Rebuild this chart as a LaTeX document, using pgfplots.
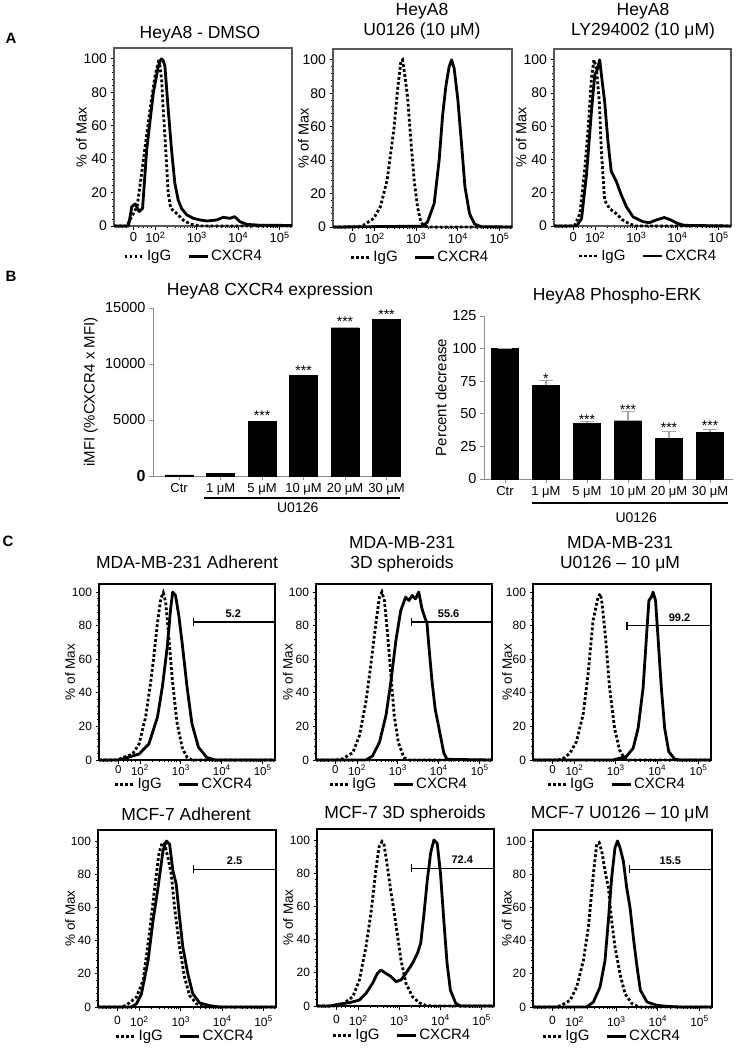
\documentclass[border=0pt]{standalone}
\usepackage{pgfplots}
\pgfplotsset{compat=1.18}
\usepackage{fontspec}
\setmainfont{Liberation Sans}
\newcommand{\fs}[1]{\fontsize{#1bp}{#1bp}\selectfont}
\newcommand{\tfont}{\fontsize{17.5bp}{20.5bp}\selectfont}
\pgfplotsset{
  hist/.style={
    scale only axis, clip=false,
    xmin=1, xmax=5.3, ymin=0,
    xtick={1.47,2,3,4,5},
    xticklabels={0,10\textsuperscript{2},10\textsuperscript{3},10\textsuperscript{4},10\textsuperscript{5}},
    minor xtick={1.1,1.2,1.3,1.6,1.7,1.8,1.9,2.301,2.477,2.602,2.699,2.778,2.845,2.903,2.954,3.301,3.477,3.602,3.699,3.778,3.845,3.903,3.954,4.301,4.477,4.602,4.699,4.778,4.845,4.903,4.954,5.25},
    ytick={0,20,40,60,80,100}, minor y tick num=4,
    tick align=outside, xtick pos=left, ytick pos=left,
    major tick length=3.5bp, minor tick length=2bp,
    /pgf/number format/assume math mode=true,
    ylabel={\% of Max},
    legend columns=2,
    legend image code/.code={\draw[##1] (0bp,0bp) -- (19bp,0bp);},
    legend style={draw=none, fill=none, anchor=center, font=\fs{15}, inner sep=0pt,
      /tikz/every even column/.append style={column sep=14bp}},
  },
  ylx/.style={ylabel style={at={(axis description cs:#1,0.5)}, anchor=center}},
  lgd/.style 2 args={legend style={at={(axis description cs:#1,#2)}}},
  arow/.style={hist, ymax=106.5, axis line style={draw=black!65, line width=1.2bp},
    tick style={black, line width=0.8bp}, tick label style={font=\fs{14}}, ylabel style={font=\fs{14.5}},
    x tick label style={font=\fs{13}, inner sep=2.5bp}},
  crow/.style={hist, axis line style={draw=black, line width=1.6bp},
    tick style={black, line width=0.8bp}, tick label style={font=\fs{12}}, ylabel style={font=\fs{13.5}}},
  c1row/.style={crow, ymax=104.8, x tick label style={font=\fs{11.5}, inner sep=1.5bp}},
  c2row/.style={crow, ymax=106.6, x tick label style={font=\fs{12}, inner sep=5.5bp}},
  igg/.style={black, line width=2.8bp, dash pattern=on 2.8bp off 2.2bp},
  cx/.style={black, line width=2.8bp, line join=round},
  gate/.style={black, line width=#1, mark=|, mark size=4bp, mark options={solid, line width=1.2bp}, forget plot},
  bar/.style={scale only axis, clip=false, axis x line=bottom, axis y line=left,
    axis line style={-, draw=black!45, line width=1bp}, ymin=0,
    xtick={0,1,2,3,4,5}, xticklabels={Ctr,1 μM,5 μM,10 μM,20 μM,30 μM},
    tick align=outside, major tick length=4bp, tick style={draw=black!45, line width=0.8bp},
    x tick label style={font=\fs{13}}, y tick label style={font=\fs{14.5}},
    ylabel style={font=\fs{15}},
    /pgf/number format/assume math mode=true,
    ybar, bar width=28bp, scaled y ticks=false},
}
\begin{document}
\begin{tikzpicture}
\useasboundingbox (0,0) rectangle (736bp,-1057bp);
\fill[white] (0,0) rectangle (736bp,-1057bp);

% ---------------- Row A ----------------
\begin{axis}[arow, at={(114bp,-226bp)}, anchor=south west, width=178bp, height=178bp, ylx=-0.183, lgd={0.447}{-0.17}]
\addplot[igg] coordinates {(1.0,0) (1.31,0) (1.47,7.6) (1.56,11.6) (1.71,39.6) (1.87,69.6) (1.99,89.6) (2.09,100) (2.15,87.6) (2.19,69.6) (2.25,45.6) (2.31,19.6) (2.37,10.6) (2.51,7.6) (2.67,3.6) (2.84,1.2) (3.08,0) (5.3,0)};
\addplot[cx] coordinates {(1.0,0) (1.35,0) (1.43,11.6) (1.51,13.2) (1.61,8.6) (1.69,10.6) (1.79,45.6) (1.95,79.6) (2.07,95.6) (2.14,100) (2.19,99) (2.23,95.6) (2.31,69.6) (2.39,45.6) (2.47,25.6) (2.55,15.6) (2.63,10.6) (2.76,6.6) (2.92,4.6) (3.08,3.6) (3.24,3) (3.48,3.6) (3.64,5.2) (3.80,4.6) (3.92,5.6) (4.04,2.6) (4.20,1) (4.5,0.5) (5.3,0.3)};
\legend{IgG,CXCR4}
\end{axis}

\begin{axis}[arow, at={(333bp,-227bp)}, anchor=south west, width=179bp, height=178bp, ylx=-0.165, lgd={0.486}{-0.17}]
\addplot[igg] coordinates {(1.0,0) (1.6,0) (1.74,1.2) (1.98,5.2) (2.14,12.2) (2.30,28) (2.47,60) (2.55,82) (2.63,99) (2.67,100) (2.72,92) (2.79,78) (2.87,52) (2.95,28) (3.03,12) (3.11,3) (3.19,0.5) (3.3,0) (5.3,0)};
\addplot[cx] coordinates {(1.0,0) (3.15,0.5) (3.27,3) (3.43,14) (3.55,40) (3.63,66) (3.71,84) (3.79,96) (3.85,100) (3.91,95) (4.00,76) (4.08,52) (4.17,24) (4.28,8) (4.40,1.8) (4.56,0.2) (5.3,0)};
\legend{IgG,CXCR4}
\end{axis}

\begin{axis}[arow, at={(554bp,-226bp)}, anchor=south west, width=177bp, height=177bp, ylx=-0.186, lgd={0.53}{-0.17}]
\addplot[igg] coordinates {(1.0,0) (1.4,0) (1.51,0.6) (1.63,7.5) (1.75,35) (1.83,59) (1.91,89) (1.97,100) (2.03,95) (2.10,75) (2.15,45) (2.23,15.5) (2.35,10.5) (2.51,7.5) (2.67,3.6) (2.84,1.2) (3.0,0) (5.3,0)};
\addplot[cx] coordinates {(1.0,0) (1.55,0) (1.67,4.5) (1.79,31) (1.91,69) (1.99,91) (2.05,94) (2.11,100) (2.18,85) (2.23,75) (2.31,51) (2.39,33) (2.51,27) (2.63,19) (2.76,11.5) (2.92,5.5) (3.16,2.6) (3.32,2) (3.48,3.6) (3.68,5.1) (3.84,3.6) (4.0,1.6) (4.16,0.4) (5.3,0)};
\legend{IgG,CXCR4}
\end{axis}

% ---------------- Row B ----------------
\begin{axis}[bar, at={(153bp,-476bp)}, anchor=south west, width=248bp, height=168bp,
  xmin=-0.63, xmax=5.35, ymax=15000, ytick={0,5000,10000,15000},
  yticklabels={{\fs{16}\bfseries 0},5000,10000,15000},
  ylabel={iMFI (\%CXCR4 x MFI)}, ylx=-0.251]
\addplot[fill=black, draw=black] coordinates {(0,100) (1,240) (2,4880) (3,8990) (4,13240) (5,13990)};
\node[font=\fs{14}, anchor=base] at (axis cs:2,5650) [yshift=-8bp] {***};
\node[font=\fs{14}, anchor=base] at (axis cs:3,9730) [yshift=-8bp] {***};
\node[font=\fs{14}, anchor=base] at (axis cs:4,14020) [yshift=-8bp] {***};
\node[font=\fs{14}, anchor=base] at (axis cs:5,14670) [yshift=-8bp] {***};
\draw[black, line width=2.5bp] (axis cs:0.6,-1964) -- (axis cs:5.33,-1964);
\node[font=\fs{14}] at (axis cs:2.86,-2813) {U0126};
\end{axis}

\begin{axis}[bar, at={(484bp,-479bp)}, anchor=south west, width=249bp, height=163bp,
  xmin=-0.51, xmax=5.56, ymax=125, ytick={0,25,50,75,100,125}, bar width=27bp,
  ylabel={Percent decrease}, ylx=-0.173]
\addplot[fill=black, draw=black, error bars/.cd, y dir=plus, y explicit,
  error bar style={draw=black!35, line width=1.2bp},
  error mark options={rotate=90, draw=black!35, line width=1.2bp, mark size=7bp}]
  coordinates {(0,100) +- (0,0) (1,71.8) +- (0,4) (2,42.6) +- (0,1.6) (3,44.7) +- (0,6.8) (4,31.4) +- (0,4.8) (5,35.7) +- (0,2.3)};
\node[font=\fs{14}, anchor=base] at (axis cs:1,79.6) [yshift=-8bp] {*};
\node[font=\fs{14}, anchor=base] at (axis cs:2,47.7) [yshift=-8bp] {***};
\node[font=\fs{14}, anchor=base] at (axis cs:3,55.9) [yshift=-8bp] {***};
\node[font=\fs{14}, anchor=base] at (axis cs:4,42.1) [yshift=-8bp] {***};
\node[font=\fs{14}, anchor=base] at (axis cs:5,43.6) [yshift=-8bp] {***};
\draw[black, line width=2.5bp] (axis cs:0.66,-18.4) -- (axis cs:5.44,-18.4);
\node[font=\fs{14}] at (axis cs:3.2,-29.5) {U0126};
\end{axis}

% ---------------- Row C1 ----------------
\begin{axis}[c1row, at={(99bp,-760bp)}, anchor=south west, width=176bp, height=176bp, ylx=-0.165, lgd={0.483}{-0.138}]
\addplot[igg] coordinates {(1.0,0) (1.4,0) (1.5,0.6) (1.82,3.6) (1.98,9.6) (2.14,25.7) (2.26,45.8) (2.34,61.8) (2.43,82) (2.51,96) (2.57,99.6) (2.63,94) (2.71,72) (2.79,48) (2.91,21.7) (3.03,7.6) (3.15,1.6) (3.27,0) (5.3,0)};
\addplot[cx] coordinates {(1.0,0) (1.45,0) (1.58,0.6) (1.98,3.6) (2.22,9.6) (2.43,25.7) (2.55,43.8) (2.67,67.9) (2.75,90) (2.80,100) (2.87,98) (2.95,86) (3.03,70) (3.15,43.8) (3.27,21.7) (3.43,7.6) (3.63,1.6) (3.83,0) (5.3,0)};
\addplot[gate=2.2bp] coordinates {(3.31,82) (5.3,82)};
\node[font=\fs{11}\bfseries, anchor=south] at (axis cs:4.28,82) [yshift=1bp] {5.2};
\legend{IgG,CXCR4}
\end{axis}

\begin{axis}[c1row, at={(316bp,-760bp)}, anchor=south west, width=176bp, height=176bp, ylx=-0.16, lgd={0.47}{-0.138}]
\addplot[igg] coordinates {(1.0,0) (1.5,0) (1.66,0.8) (1.90,4.4) (2.06,14.5) (2.22,34.6) (2.34,56.7) (2.47,82.9) (2.55,97) (2.61,100) (2.67,95) (2.75,74.8) (2.83,50.7) (2.91,26.6) (3.01,10.5) (3.15,1.4) (3.27,0) (5.3,0)};
\addplot[cx] coordinates {(1.0,0) (2.22,0) (2.38,2.4) (2.55,10.5) (2.71,26.6) (2.83,46.7) (2.95,70.8) (3.07,89) (3.19,97) (3.27,95) (3.35,98) (3.43,96) (3.51,100) (3.59,90) (3.67,84) (3.71,82) (3.75,70) (3.83,48) (3.91,30.6) (4.04,14.5) (4.12,4.4) (4.20,0.4) (5.3,0)};
\addplot[gate=2.2bp] coordinates {(3.33,82) (5.3,82)};
\node[font=\fs{11}\bfseries, anchor=south] at (axis cs:4.24,82) [yshift=1bp] {55.6};
\legend{IgG,CXCR4}
\end{axis}

\begin{axis}[c1row, at={(533bp,-760bp)}, anchor=south west, width=178bp, height=176bp, ylx=-0.146, lgd={0.47}{-0.138}]
\addplot[igg] coordinates {(1.0,0) (1.6,0) (1.72,0.6) (1.89,4) (2.05,11) (2.21,27) (2.33,51) (2.45,83) (2.57,97) (2.63,99) (2.67,93) (2.76,71) (2.85,43) (2.97,19) (3.09,6) (3.21,1) (3.29,0) (5.3,0)};
\addplot[cx] coordinates {(1.0,0) (2.93,0) (3.25,2) (3.42,7) (3.54,19) (3.66,43) (3.74,73) (3.80,95) (3.86,97) (3.90,100) (3.96,95) (4.02,73) (4.10,43) (4.18,19) (4.28,5) (4.42,0.6) (4.54,0) (5.3,0)};
\addplot[gate=1.1bp] coordinates {(3.27,80) (5.3,80)};
\node[font=\fs{11}\bfseries, anchor=south] at (axis cs:4.54,80) [yshift=1bp] {99.2};
\legend{IgG,CXCR4}
\end{axis}

% ---------------- Row C2 ----------------
\begin{axis}[c2row, at={(98bp,-1007bp)}, anchor=south west, width=178bp, height=177bp, ylx=-0.157, lgd={0.49}{-0.166}]
\addplot[igg] coordinates {(1.0,0) (1.55,0) (1.68,1) (1.93,6) (2.09,16) (2.25,46) (2.37,72) (2.47,92) (2.55,99) (2.61,98) (2.69,90) (2.77,80) (2.85,60) (2.97,36) (3.09,18) (3.21,7) (3.38,2) (3.54,0) (5.3,0)};
\addplot[cx] coordinates {(1.0,0) (1.81,0) (1.93,2) (2.05,8) (2.21,28) (2.33,52) (2.45,72) (2.57,94) (2.65,100) (2.73,98) (2.81,82) (2.89,74) (2.97,54) (3.05,36) (3.17,20) (3.29,8) (3.46,2.4) (3.70,0.8) (3.94,0) (5.3,0)};
\addplot[gate=1.1bp] coordinates {(3.31,83) (5.3,83)};
\node[font=\fs{11}\bfseries, anchor=south] at (axis cs:4.30,83) [yshift=1bp] {2.5};
\legend{IgG,CXCR4}
\end{axis}

\begin{axis}[c2row, at={(317bp,-1006bp)}, anchor=south west, width=177bp, height=177bp, ylx=-0.164, lgd={0.48}{-0.166}]
\addplot[igg] coordinates {(1.0,0) (1.5,0) (1.63,1.2) (1.87,5.6) (2.03,15.7) (2.19,35.7) (2.31,55.8) (2.43,82) (2.51,96) (2.58,99) (2.63,97) (2.71,84) (2.80,68) (2.88,55.8) (2.96,41.8) (3.04,27.7) (3.16,13.7) (3.32,5.6) (3.48,2) (3.64,0.4) (3.8,0) (5.3,0)};
\addplot[cx] coordinates {(1.0,0) (1.31,0) (1.55,1.2) (1.79,2) (2.03,3.6) (2.19,7.6) (2.35,13.7) (2.47,19.7) (2.55,21.7) (2.67,19.7) (2.80,17.7) (2.92,14.7) (3.04,15.7) (3.16,19.7) (3.32,25.7) (3.44,31.7) (3.52,37.8) (3.60,55.8) (3.68,75.9) (3.76,92) (3.84,100) (3.92,98) (4.00,80) (4.08,51.8) (4.16,25.7) (4.24,9.6) (4.37,1.6) (4.49,0) (5.3,0)};
\addplot[gate=1.1bp] coordinates {(3.30,83) (5.3,83)};
\node[font=\fs{11}\bfseries, anchor=south] at (axis cs:4.53,83) [yshift=1bp] {72.4};
\legend{IgG,CXCR4}
\end{axis}

\begin{axis}[c2row, at={(533bp,-1007bp)}, anchor=south west, width=179bp, height=177bp, ylx=-0.146, lgd={0.44}{-0.166}]
\addplot[igg] coordinates {(1.0,0) (1.55,0) (1.68,1) (1.89,4) (2.05,12) (2.21,28) (2.33,48) (2.45,80) (2.53,98) (2.59,99) (2.65,94) (2.73,82) (2.81,72) (2.89,52) (2.97,36) (3.09,20) (3.21,8) (3.38,2) (3.54,0) (5.3,0)};
\addplot[cx] coordinates {(1.0,0) (2.29,0) (2.45,3) (2.61,12) (2.73,28) (2.81,52) (2.89,78) (2.97,96) (3.03,100) (3.09,96) (3.17,88) (3.25,72) (3.33,60) (3.42,40) (3.50,24) (3.58,10) (3.74,3) (3.98,1) (4.22,0.4) (4.54,0) (5.3,0)};
\addplot[gate=1.1bp] coordinates {(3.31,83) (5.3,83)};
\node[font=\fs{11}\bfseries, anchor=south] at (axis cs:4.30,83) [yshift=1bp] {15.5};
\legend{IgG,CXCR4}
\end{axis}

% ---------------- Titles and panel letters ----------------
\node[font=\fs{15}\bfseries] at (11bp,-38bp) {A};
\node[font=\fs{15}\bfseries] at (11bp,-276bp) {B};
\node[font=\fs{15}\bfseries] at (8bp,-541bp) {C};
\node[font=\tfont] at (200bp,-34bp) {HeyA8 - DMSO};
\node[font=\tfont, align=center] at (422bp,-21bp) {HeyA8\\U0126 (10 μM)};
\node[font=\tfont, align=center] at (643bp,-21bp) {HeyA8\\LY294002 (10 μM)};
\node[font=\tfont] at (270bp,-291bp) {HeyA8 CXCR4 expression};
\node[font=\tfont] at (617bp,-296bp) {HeyA8 Phospho-ERK};
\node[font=\tfont] at (187bp,-562bp) {MDA-MB-231 Adherent};
\node[font=\tfont, align=center] at (402bp,-554bp) {MDA-MB-231\\3D spheroids};
\node[font=\tfont, align=center] at (620bp,-554bp) {MDA-MB-231\\U0126 – 10 μM};
\node[font=\tfont] at (186bp,-814bp) {MCF-7 Adherent};
\node[font=\tfont] at (405bp,-814bp) {MCF-7 3D spheroids};
\node[font=\tfont] at (620bp,-814bp) {MCF-7 U0126 – 10 μM};
\end{tikzpicture}
\end{document}
